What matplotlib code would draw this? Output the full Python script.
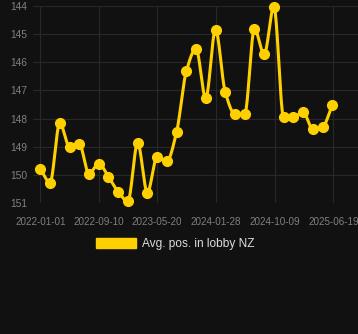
import numpy as np
import matplotlib
matplotlib.use("Agg")
import matplotlib.pyplot as plt
import matplotlib.dates as mdates
from matplotlib.patches import Patch

plt.rcParams['font.family'] = ['Liberation Sans', 'DejaVu Sans']

dates = ["2022-01-01", "2022-02-12", "2022-03-26", "2022-05-07", "2022-06-18",
         "2022-07-30", "2022-09-10", "2022-10-22", "2022-12-03", "2023-01-14",
         "2023-02-25", "2023-04-08", "2023-05-20", "2023-07-01", "2023-08-12",
         "2023-09-23", "2023-11-04", "2023-12-16", "2024-01-27", "2024-03-09",
         "2024-04-20", "2024-06-01", "2024-07-13", "2024-08-24", "2024-10-05",
         "2024-11-16", "2024-12-28", "2025-02-08", "2025-03-22", "2025-05-03",
         "2025-06-14"]
avg_pos = [149.79, 150.28, 148.16, 149.0, 148.9, 149.96, 149.6, 150.07, 150.6, 150.94,
           148.87, 150.63, 149.36, 149.51, 148.48, 146.32, 145.52, 147.28, 144.84, 147.06,
           147.84, 147.84, 144.81, 145.72, 144.02, 147.95, 147.95, 147.77, 148.38, 148.3,
           147.52]
tick_dates = ["2022-01-01", "2022-09-10", "2023-05-20", "2024-01-28", "2024-10-09", "2025-06-19"]
y_ticks = [144, 145, 146, 147, 148, 149, 150, 151]

bg = "#111111"
gold = "#FFD000"
grid_c = "#282828"
label_c = "#808080"

x = mdates.datestr2num(dates)
y = np.array(avg_pos)


# monotone cubic (Fritsch-Carlson) for the smooth line
def monotone(xs, ys, n=20):
    h = np.diff(xs)
    d = np.diff(ys) / h
    m = np.zeros(len(xs))
    m[0], m[-1] = d[0], d[-1]
    for i in range(1, len(xs) - 1):
        if d[i - 1] * d[i] <= 0:
            m[i] = 0
        else:
            w1 = 2 * h[i] + h[i - 1]
            w2 = h[i] + 2 * h[i - 1]
            m[i] = (w1 + w2) / (w1 / d[i - 1] + w2 / d[i])
    xo, yo = [], []
    for i in range(len(xs) - 1):
        t = np.linspace(0, 1, n, endpoint=False)
        h00 = 2 * t**3 - 3 * t**2 + 1
        h10 = t**3 - 2 * t**2 + t
        h01 = -2 * t**3 + 3 * t**2
        h11 = t**3 - t**2
        xo.extend(xs[i] + t * h[i])
        yo.extend(h00 * ys[i] + h10 * h[i] * m[i] + h01 * ys[i + 1] + h11 * h[i] * m[i + 1])
    xo.append(xs[-1])
    yo.append(ys[-1])
    return np.array(xo), np.array(yo)


xs, ys = monotone(x, y)

fig = plt.figure(figsize=(3.58, 3.34), dpi=100, facecolor=bg)
ax = fig.add_axes([33 / 358, (334 - 203) / 334, (358 - 33) / 358, (203 - 6) / 334])
ax.set_facecolor(bg)

ax.plot(xs, ys, color=gold, linewidth=2.2, clip_on=False, zorder=3)
ax.plot(x, y, "o", color=gold, markersize=7, clip_on=False, zorder=4)

t0 = mdates.datestr2num("2022-01-01")
t1 = mdates.datestr2num("2022-09-10")
px_day = (98.7 - 40.3) / (t1 - t0)
ax.set_xlim(t0 - (40.3 - 33) / px_day, t0 + (358 - 40.3) / px_day)
ax.set_ylim(151, 144)

ax.set_yticks(y_ticks)
ax.set_xticks(mdates.datestr2num(tick_dates))
ax.set_xticklabels(tick_dates)
ax.tick_params(colors=label_c, length=0, labelsize=7.1)
ax.tick_params(axis="y", labelsize=7.4, pad=4)
ax.tick_params(axis="x", pad=10)
ax.grid(True, color=grid_c, linewidth=0.8)
for s in ax.spines.values():
    s.set_visible(False)

leg = fig.legend(handles=[Patch(color=gold, label="Avg. pos. in lobby NZ")],
                 loc="center", bbox_to_anchor=(0.49, 1 - 244 / 334), frameon=False,
                 fontsize=8.6, handlelength=3.3, handleheight=0.95, handletextpad=0.5)
for t in leg.get_texts():
    t.set_color("#dddddd")

fig.savefig("out.png", dpi=100, facecolor=bg)
